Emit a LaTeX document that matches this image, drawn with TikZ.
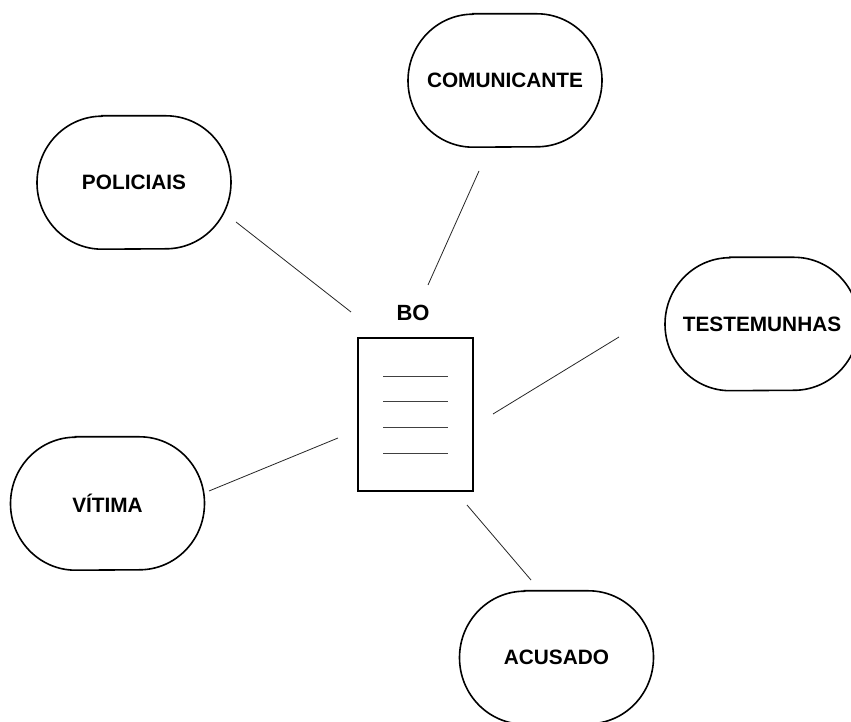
\documentclass[tikz,border=0pt]{standalone}
\usepackage{fontspec}
\setmainfont{Liberation Sans}
\begin{document}
\begin{tikzpicture}[x=1pt,y=1pt,
  party/.style={rectangle, draw=none, minimum width=194pt, minimum height=133pt,
    inner sep=0pt, font=\bfseries\fontsize{20.8pt}{24pt}\selectfont},
  outline/.style={line width=1.6pt, black},
  link/.style={line width=0.8pt, black!85},
  docbox/.style={rectangle, draw, line width=1.6pt, minimum width=115pt,
    minimum height=153pt, inner sep=0pt},
  docline/.style={line width=0.9pt, black!75},
  title/.style={font=\bfseries\fontsize{22pt}{26pt}\selectfont, inner sep=0pt}]
\clip (0,0) rectangle (851,722);
\fill[white] (0,0) rectangle (851,722);

% participants
\node[party] (com) at (505,641.5) {COMUNICANTE};
\node[party] (pol) at (134,539.5) {POLICIAIS};
\node[party] (tes) at (762,398) {TESTEMUNHAS};
\node[party] (vit) at (107.5,218.5) {VÍTIMA};
\node[party] (acu) at (556.5,64.5) {ACUSADO};

% rounded outlines with a short flat top and bottom
\foreach \n in {com,pol,tes,vit,acu}{
  \draw[outline] ([xshift=-32pt]\n.north) -- ([xshift=32pt]\n.north)
    arc[start angle=90, end angle=-90, x radius=65pt, y radius=66.5pt]
    -- ([xshift=-32pt]\n.south)
    arc[start angle=270, end angle=90, x radius=65pt, y radius=66.5pt] -- cycle;
}

% the report sheet
\node[docbox] (bo) at (415.5,307.5) {};
\node[title] (bolabel) at (413,409) {BO};
\foreach \yy in {346,321,295,269}{
  \draw[docline] (383,\yy) -- (448,\yy);
}

% connector end points
\coordinate (polA) at (236,500);  \coordinate (polB) at (351,410);
\coordinate (comA) at (479,551);  \coordinate (comB) at (428,437);
\coordinate (tesA) at (619,385);  \coordinate (tesB) at (493,308);
\coordinate (vitA) at (209,231);  \coordinate (vitB) at (338,284);
\coordinate (acuA) at (467,217);  \coordinate (acuB) at (531,142);

\draw[link] (polA) -- (polB);
\draw[link] (comA) -- (comB);
\draw[link] (tesA) -- (tesB);
\draw[link] (vitA) -- (vitB);
\draw[link] (acuA) -- (acuB);
\end{tikzpicture}
\end{document}
